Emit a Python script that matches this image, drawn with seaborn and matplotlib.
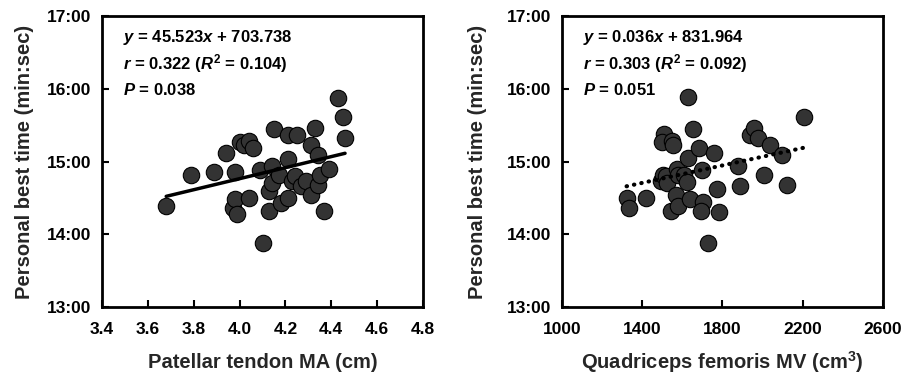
import matplotlib
matplotlib.use("Agg")
import matplotlib.pyplot as plt
import seaborn as sns
import numpy as np
import pandas as pd
from matplotlib.ticker import FuncFormatter

# ---- data ----
ma_cm = [3.68, 3.79, 3.89, 3.94, 3.98, 4.00, 4.02, 4.04, 4.06, 3.97, 3.98, 3.99, 4.04,
         4.09, 4.10, 4.13, 4.13, 4.14, 4.14, 4.15, 4.17, 4.18, 4.21, 4.21, 4.21, 4.23,
         4.24, 4.25, 4.27, 4.29, 4.31, 4.31, 4.33, 4.34, 4.34, 4.35, 4.37, 4.39, 4.43,
         4.45, 4.46]
ma_time = [863, 889, 891, 907, 891, 916, 914, 917, 911, 862, 869, 857, 870,
           893, 833, 876, 859, 882, 896, 927, 889, 866, 922, 870, 902, 884,
           888, 922, 880, 884, 914, 872, 928, 881, 905, 889, 859, 894, 952,
           937, 919]

mv_cm3 = [1322, 1335, 1417, 1491, 1505, 1508, 1498, 1518, 1524, 1548, 1551, 1543, 1568,
          1571, 1579, 1579, 1608, 1624, 1626, 1629, 1637, 1651, 1684, 1699, 1701, 1692,
          1729, 1757, 1774, 1782, 1878, 1886, 1936, 1958, 1975, 2006, 2036, 2096, 2122,
          2205]
mv_time = [870, 862, 870, 884, 889, 923, 916, 888, 882, 917, 914, 859, 872,
           894, 889, 863, 889, 883, 953, 903, 869, 927, 911, 893, 867, 859,
           833, 907, 877, 858, 896, 880, 922, 928, 919, 889, 914, 905, 881,
           937]

fit_left = (45.523, 703.738)
fit_right = (0.036, 831.964)

ann_left = [r"$y$ = 45.523$x$ + 703.738", r"$r$ = 0.322 ($R^2$ = 0.104)", r"$P$ = 0.038"]
ann_right = [r"$y$ = 0.036$x$ + 831.964", r"$r$ = 0.303 ($R^2$ = 0.092)", r"$P$ = 0.051"]

yticks = [780, 840, 900, 960, 1020]
xticks_left = [3.4, 3.6, 3.8, 4.0, 4.2, 4.4, 4.6, 4.8]
xticks_right = [1000, 1400, 1800, 2200, 2600]

# ---- style ----
sns.set_theme(style="white")
plt.rcParams['font.family'] = ['Liberation Sans', 'DejaVu Sans']
plt.rcParams['font.weight'] = 'bold'
plt.rcParams['mathtext.fontset'] = 'custom'
plt.rcParams['mathtext.it'] = 'Liberation Sans:italic:bold'
plt.rcParams['mathtext.rm'] = 'Liberation Sans:bold'
plt.rcParams['mathtext.bf'] = 'Liberation Sans:bold'

fig = plt.figure(figsize=(9.12, 3.74), dpi=100)
axL = fig.add_axes([102/912, 1-307/374, 321/912, 291/374])
axR = fig.add_axes([562/912, 1-307/374, 321/912, 291/374])

def mmss(v, pos):
    v = int(round(v))
    return f"{v//60}:{v%60:02d}"

def style(ax, xticks, xlabel, ylab_x):
    ax.set_ylim(780, 1020)
    ax.set_xlim(xticks[0], xticks[-1])
    ax.set_yticks(yticks)
    ax.yaxis.set_major_formatter(FuncFormatter(mmss))
    ax.set_xticks(xticks)
    ax.tick_params(axis='both', direction='in', length=5, width=1.5, colors='black',
                   labelsize=12.5, left=True, bottom=True, top=False, right=False)
    ax.tick_params(axis='x', pad=11)
    ax.tick_params(axis='y', pad=8)
    for lab in ax.get_xticklabels() + ax.get_yticklabels():
        lab.set_fontweight('bold')
    for s in ax.spines.values():
        s.set_linewidth(2)
        s.set_color('black')
        s.set_visible(True)
    ax.set_xlabel(xlabel, fontsize=14.5, fontweight='bold', va='center')
    ax.xaxis.set_label_coords(0.5, -0.19)
    ax.set_ylabel("Personal best time (min:sec)", fontsize=14.5, fontweight='bold')
    ax.yaxis.set_label_coords(ylab_x, 0.5)
    ax.grid(False)

dfL = pd.DataFrame({'x': ma_cm, 'y': ma_time})
dfR = pd.DataFrame({'x': mv_cm3, 'y': mv_time})

for ax, df, fit, ls in [(axL, dfL, fit_left, '-'), (axR, dfR, fit_right, 'dotted')]:
    xs = np.array([df['x'].min(), df['x'].max()])
    line = pd.DataFrame({'x': xs, 'y': fit[0]*xs + fit[1]})
    sns.lineplot(data=line, x='x', y='y', ax=ax, color='black', zorder=3,
                 linewidth=2.5 if ls == '-' else 3,
                 linestyle='-' if ls == '-' else (0, (0.1, 1.7)),
                 dash_capstyle='round')
    sns.scatterplot(data=df, x='x', y='y', ax=ax, s=140, color='#333333',
                    edgecolor='black', linewidth=0.8, zorder=2)

style(axL, xticks_left, "Patellar tendon MA (cm)", -0.212)
style(axR, xticks_right, r"Quadriceps femoris MV (cm$^3$)", -0.234)

for ax, ann in [(axL, ann_left), (axR, ann_right)]:
    for i, t in enumerate(ann):
        ax.text(0.064, 0.925 - i*0.09, t, transform=ax.transAxes, fontsize=12,
                fontweight='bold', va='center', ha='left', color='black')

fig.savefig("out.png", dpi=100)
